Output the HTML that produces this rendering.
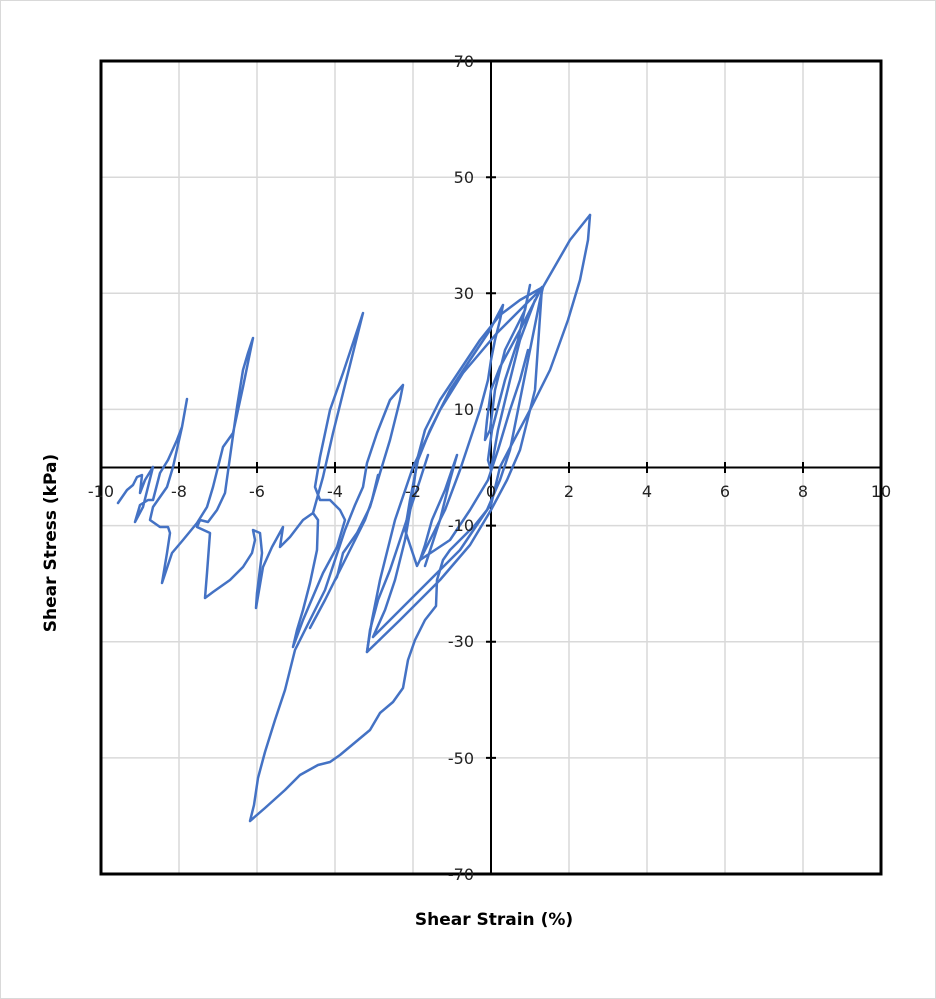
<!DOCTYPE html>
<html><head><style>
body{margin:0;background:#fff;}
svg{display:block;font-family:"DejaVu Sans","Liberation Sans",sans-serif;}
</style></head><body>
<svg width="936" height="999" viewBox="0 0 936 999">
<rect x="0.5" y="0.5" width="935" height="998" fill="#fff" stroke="#d9d9d9"/>
<g stroke="#d9d9d9" stroke-width="1.5">
<line x1="179" y1="61" x2="179" y2="874"/><line x1="257" y1="61" x2="257" y2="874"/>
<line x1="335" y1="61" x2="335" y2="874"/><line x1="413" y1="61" x2="413" y2="874"/>
<line x1="569" y1="61" x2="569" y2="874"/><line x1="647" y1="61" x2="647" y2="874"/>
<line x1="725" y1="61" x2="725" y2="874"/><line x1="803" y1="61" x2="803" y2="874"/>
<line x1="101" y1="177.2" x2="881" y2="177.2"/><line x1="101" y1="293.3" x2="881" y2="293.3"/>
<line x1="101" y1="409.4" x2="881" y2="409.4"/><line x1="101" y1="525.6" x2="881" y2="525.6"/>
<line x1="101" y1="641.7" x2="881" y2="641.7"/><line x1="101" y1="757.9" x2="881" y2="757.9"/>
</g>
<g stroke="#000" stroke-width="2">
<line x1="101" y1="467.5" x2="881" y2="467.5"/>
<line x1="491" y1="61" x2="491" y2="874"/>
<path d="M179 462v11M257 462v11M335 462v11M413 462v11M569 462v11M647 462v11M725 462v11M803 462v11M486 177.2h10M486 293.3h10M486 409.4h10M486 525.6h10M486 641.7h10M486 757.9h10"/>
</g>
<g fill="none" stroke="#4472c4" stroke-width="2.5" stroke-linejoin="round" stroke-linecap="round">
<path d="M590,215 L588,240 L580,280 L568,320 L550,370 L530,410 L514,440 L500,467 L491,505 L475,525 L460,540 L450,550 L443,560 L437,580 L436,606 L425,620 L415,640 L408,660 L403,688 L393,702 L380,713 L370,730 L358,740 L340,755 L330,762 L318,765 L300,775 L285,790 L265,808 L250,821 L254,805 L258,778 L265,752 L275,720 L285,690 L295,650 L310,620 L325,590 L335,560 L345,530 L355,505 L363,487 L367,463 L377,433 L390,400 L403,385 L400,400 L390,440 L380,473 L370,507 L357,533 L343,553 L337,577 L335,580"/>
<path d="M590,215 L570,240 L543,287 L497,333 L463,373 L440,410 L413,467 L395,520 L380,580 L372,620 L367,652 L400,620 L440,580 L470,545 L491,510 L507,480 L520,450 L535,390 L542,287 L520,330 L500,367 L491,390 L487,420 L485,440 L490,430 L495,390 L505,350 L515,330 L525,310 L530,285 L527,300 L518,340 L505,380 L492,430 L488,460 L491,470 L498,430 L510,380 L520,340 L535,300"/>
<path d="M503,305 L495,320 L490,330 L470,360 L450,390 L430,430 L418,460 L410,500 L405,530 L417,566 L430,540 L445,510 L460,470 L470,440 L480,410 L488,380 L491,360 L495,340 L500,320 L503,305"/>
<path d="M373,637 L400,610 L430,580 L460,550 L487,510 L500,480 L510,450 L520,400 L530,350 L540,300 L543,287 L520,300 L500,315 L480,340 L460,370 L440,400 L425,430 L417,460 L412,500 L405,540 L395,580 L385,610 L373,637"/>
<path d="M425,566 L440,520 L450,480 L457,455 L445,490 L432,520 L425,545 L420,560 L450,540 L470,510 L488,480 L498,450 L510,410 L520,380 L528,350"/>
<path d="M367,652 L370,630 L378,600 L390,570 L400,540 L410,510 L420,480 L428,455"/>
<path d="M118,503 L127,490 L133,485 L137,477 L142,475 L140,493 L145,480 L153,467 L148,487 L143,507 L135,522 L140,505 L148,500 L153,500 L160,473 L168,460 L177,440 L182,427 L187,399 L182,427 L173,467 L167,487 L153,507 L150,520 L160,527 L168,527 L170,533 L167,553 L162,583 L172,553 L183,540 L197,523 L207,507 L213,487 L223,447 L233,433 L243,387 L253,338 L248,353 L243,370 L237,407 L230,457 L225,493 L217,510 L208,522 L200,520 L197,527 L210,533 L207,573 L205,598 L213,592 L230,580 L243,567 L252,553 L255,540 L253,530 L260,533 L262,553 L257,593 L256,608 L263,567 L272,547 L283,527 L280,547 L290,537 L303,520 L313,513 L318,520 L317,550 L310,583 L303,610 L297,630 L293,647 L303,620 L323,573 L337,547 L345,520 L340,510 L330,500 L320,500 L315,487 L320,457 L330,410 L343,373 L363,313 L357,337 L343,393 L333,433 L323,477 L313,513"/>
<path d="M310,628 L325,600 L335,580 L345,560 L355,540 L365,520 L372,500 L378,475"/>
</g>
<rect x="101" y="61" width="780" height="813" fill="none" stroke="#000" stroke-width="3"/>
<g font-size="16" fill="#222" text-anchor="end">
<text x="474" y="67">70</text><text x="474" y="183">50</text><text x="474" y="299">30</text>
<text x="474" y="415">10</text><text x="474" y="531">-10</text><text x="474" y="647">-30</text>
<text x="474" y="764">-50</text><text x="474" y="880">-70</text>
</g>
<g font-size="16" fill="#222" text-anchor="middle">
<text x="101" y="497">-10</text><text x="179" y="497">-8</text><text x="257" y="497">-6</text>
<text x="335" y="497">-4</text><text x="413" y="497">-2</text><text x="491" y="497">0</text>
<text x="569" y="497">2</text><text x="647" y="497">4</text><text x="725" y="497">6</text>
<text x="803" y="497">8</text><text x="881" y="497">10</text>
</g>
<text x="494" y="925" font-size="17" font-weight="bold" text-anchor="middle" fill="#000">Shear Strain (%)</text>
<text transform="translate(56,543) rotate(-90)" font-size="17" font-weight="bold" text-anchor="middle" fill="#000">Shear Stress (kPa)</text>
</svg>
</body></html>
